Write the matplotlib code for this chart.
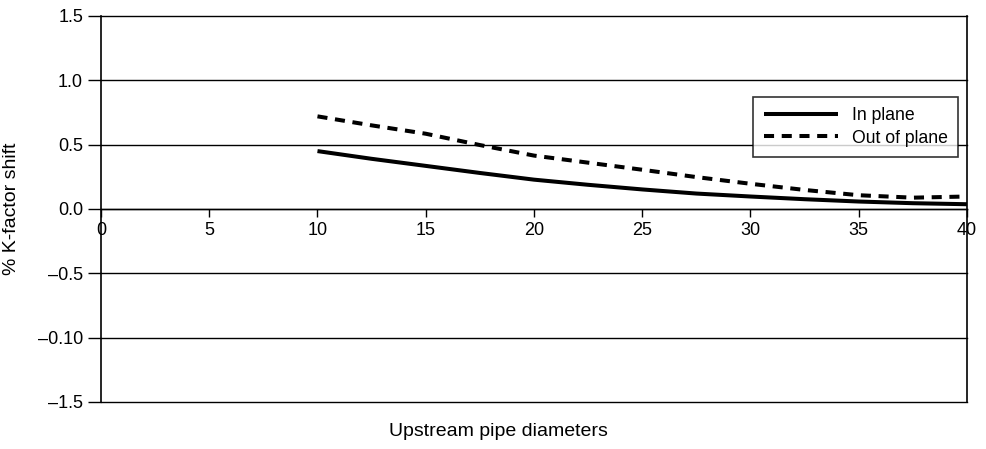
import matplotlib
matplotlib.use("Agg")
import matplotlib.pyplot as plt

plt.rcParams['font.family'] = ['Liberation Sans', 'DejaVu Sans']

# Data
diameters = [10, 12.5, 15, 17.5, 20, 22.5, 25, 27.5, 30, 32.5, 35, 37.5, 40]
in_plane = [0.45, 0.39, 0.335, 0.28, 0.228, 0.188, 0.152, 0.12, 0.097, 0.076, 0.058, 0.045, 0.037]
out_of_plane = [0.72, 0.65, 0.585, 0.497, 0.415, 0.36, 0.305, 0.248, 0.196, 0.148, 0.107, 0.088, 0.097]

x_ticks = [0, 5, 10, 15, 20, 25, 30, 35, 40]
y_ticks = [1.5, 1.0, 0.5, 0.0, -0.5, -1.0, -1.5]
y_tick_labels = ["1.5", "1.0", "0.5", "0.0", "\u20130.5", "\u20130.10", "\u20131.5"]

fig = plt.figure(figsize=(9.86, 4.49), dpi=100)
ax = fig.add_axes([0.1024, 0.1047, 0.8783, 0.8597])

ax.set_xlim(0, 40)
ax.set_ylim(-1.5, 1.5)

for yv in y_ticks:
    ax.axhline(yv, color='black', lw=1.0, clip_on=False, zorder=1)

ax.plot(diameters, in_plane, color='black', lw=2.9, solid_capstyle='butt', label='In plane', zorder=3)
ax.plot(diameters, out_of_plane, color='black', lw=2.9, linestyle=(0, (2.5, 1.9)),
        dash_capstyle='butt', label='Out of plane', zorder=3)

ax.spines['top'].set_visible(False)
ax.spines['bottom'].set_position(('data', 0))
ax.spines['bottom'].set_linewidth(1.0)
ax.spines['left'].set_linewidth(1.2)
ax.spines['right'].set_linewidth(1.2)

ax.set_xticks(x_ticks)
ax.set_xticklabels([str(v) for v in x_ticks])
ax.set_yticks(y_ticks)
ax.set_yticklabels(y_tick_labels)
ax.tick_params(axis='x', direction='out', length=6, width=1.0, labelsize=13, pad=3.5)
ax.tick_params(axis='y', direction='out', length=9.4, width=1.0, labelsize=13, pad=3.5)
for lbl in ax.get_xticklabels():
    lbl.set_bbox(dict(facecolor='white', edgecolor='none', pad=1.0))
    lbl.set_zorder(5)

ax.set_ylabel('% K-factor shift', fontsize=14)
ax.yaxis.set_label_coords(-0.0935, 0.5)
fig.text(0.506, 0.04, 'Upstream pipe diameters', ha='center', va='center', fontsize=14)

leg = ax.legend(loc='upper right', bbox_to_anchor=(0.9896, 0.790), borderaxespad=0,
                fontsize=12.7, handlelength=4.2, frameon=True, fancybox=False,
                edgecolor='black', labelspacing=0.3, borderpad=0.58, handletextpad=0.8)
leg.get_frame().set_linewidth(1.2)

fig.savefig('out.png', dpi=100)
